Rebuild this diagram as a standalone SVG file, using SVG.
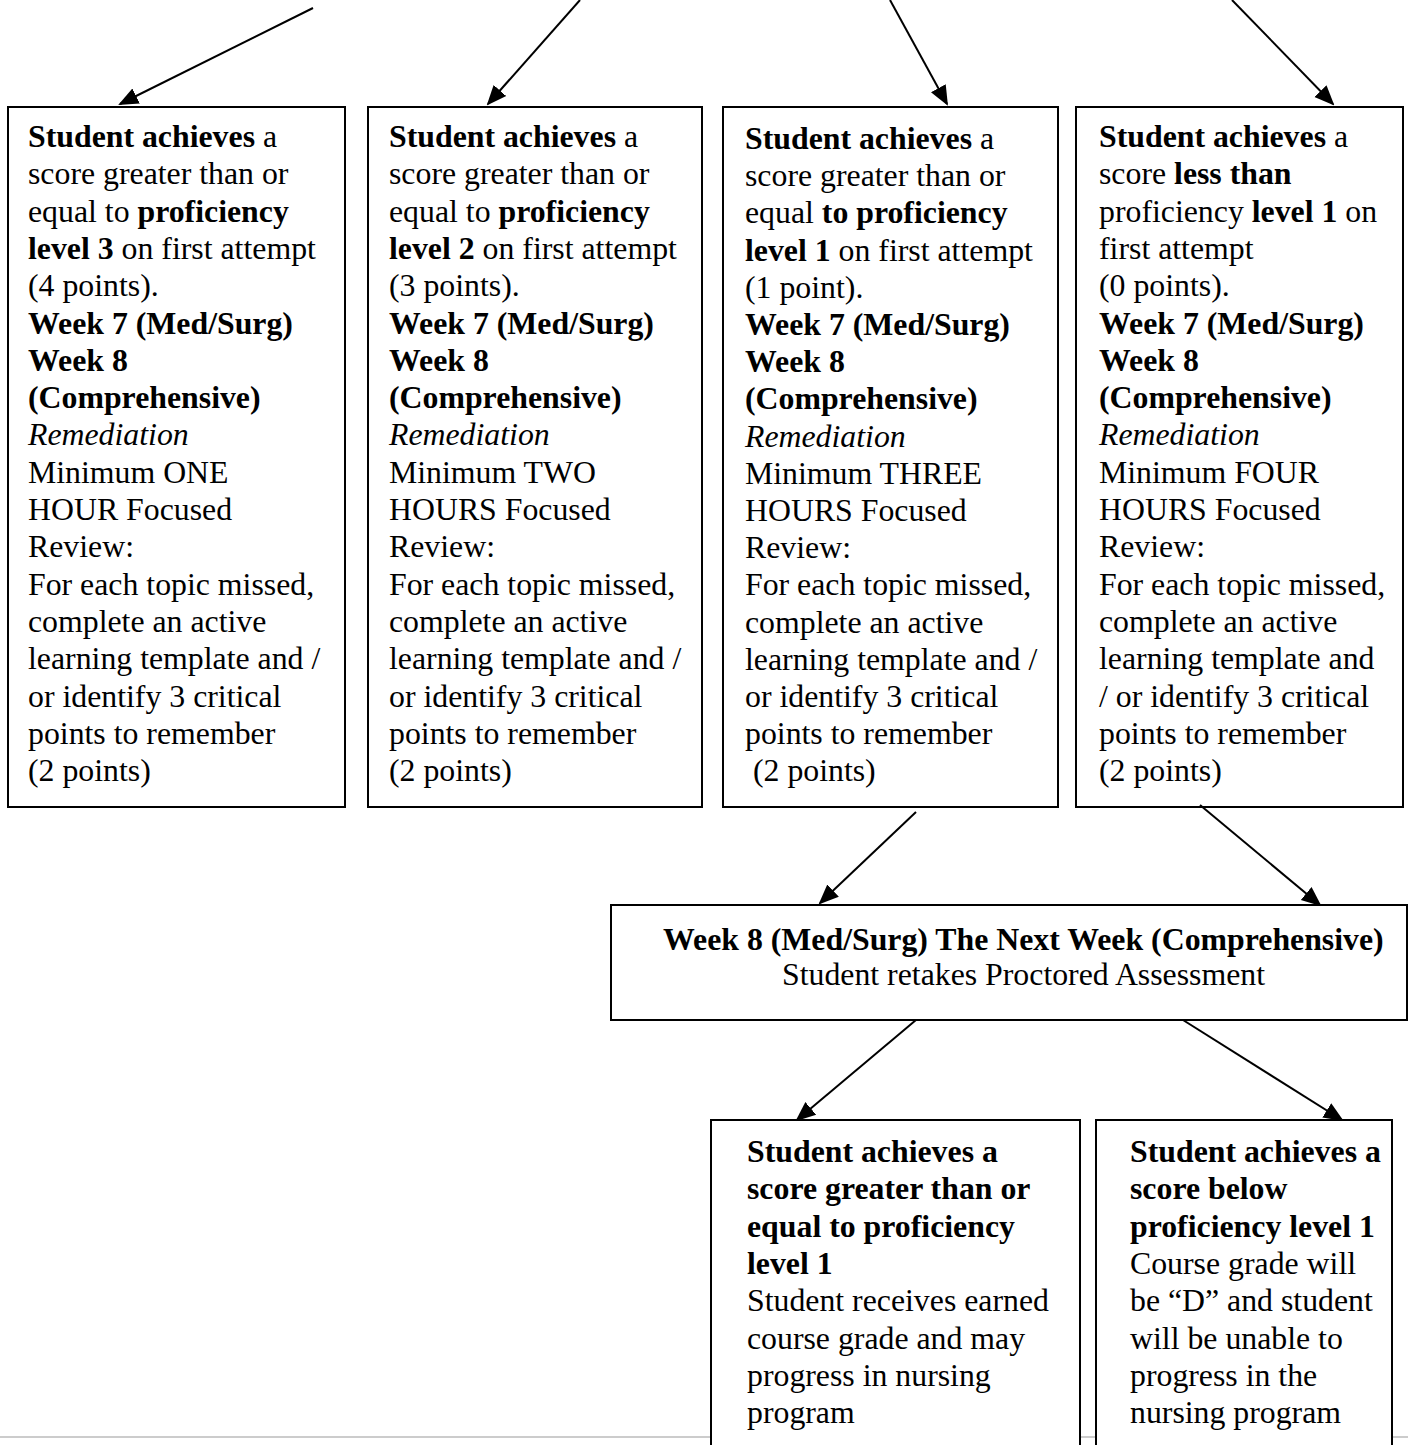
<svg xmlns="http://www.w3.org/2000/svg" width="1408" height="1445" viewBox="0 0 1408 1445">
<defs>
<style>
text{font-family:"Liberation Serif","Times New Roman",serif;font-size:31.8px;fill:#000}
.b{font-weight:bold}
.i{font-style:italic}
.box{fill:#fff;stroke:#000;stroke-width:2}
.conn line{stroke:#000;stroke-width:2}
</style>
<marker id="ah" viewBox="0 0 10 10" refX="9" refY="5" markerWidth="10" markerHeight="10" orient="auto" markerUnits="strokeWidth">
<path d="M0,0.8 L10,5 L0,9.2 z" fill="#000"/>
</marker>
</defs>
<rect width="1408" height="1445" fill="#fff"/>
<line x1="0" y1="1437" x2="1408" y2="1437" stroke="#ccc" stroke-width="2"/>

<g id="n1">
<rect class="box" x="8" y="107" width="337" height="700"/>
<text x="28" y="147"><tspan class="b">Student achieves</tspan> a</text>
<text x="28" y="184.3">score greater than or</text>
<text x="28" y="221.6">equal to <tspan class="b">proficiency</tspan></text>
<text x="28" y="258.9"><tspan class="b">level 3</tspan> on first attempt</text>
<text x="28" y="296.2">(4 points).</text>
<text x="28" y="333.5" class="b">Week 7 (Med/Surg)</text>
<text x="28" y="370.8" class="b">Week 8</text>
<text x="28" y="408.1" class="b">(Comprehensive)</text>
<text x="28" y="445.4" class="i">Remediation</text>
<text x="28" y="482.7">Minimum ONE</text>
<text x="28" y="520">HOUR Focused</text>
<text x="28" y="557.3">Review:</text>
<text x="28" y="594.6">For each topic missed,</text>
<text x="28" y="631.9">complete an active</text>
<text x="28" y="669.2">learning template and /</text>
<text x="28" y="706.5">or identify 3 critical</text>
<text x="28" y="743.8">points to remember</text>
<text x="28" y="781.1">(2 points)</text>
</g>

<g id="n2">
<rect class="box" x="368" y="107" width="334" height="700"/>
<text x="389" y="147"><tspan class="b">Student achieves</tspan> a</text>
<text x="389" y="184.3">score greater than or</text>
<text x="389" y="221.6">equal to <tspan class="b">proficiency</tspan></text>
<text x="389" y="258.9"><tspan class="b">level 2</tspan> on first attempt</text>
<text x="389" y="296.2">(3 points).</text>
<text x="389" y="333.5" class="b">Week 7 (Med/Surg)</text>
<text x="389" y="370.8" class="b">Week 8</text>
<text x="389" y="408.1" class="b">(Comprehensive)</text>
<text x="389" y="445.4" class="i">Remediation</text>
<text x="389" y="482.7">Minimum TWO</text>
<text x="389" y="520">HOURS Focused</text>
<text x="389" y="557.3">Review:</text>
<text x="389" y="594.6">For each topic missed,</text>
<text x="389" y="631.9">complete an active</text>
<text x="389" y="669.2">learning template and /</text>
<text x="389" y="706.5">or identify 3 critical</text>
<text x="389" y="743.8">points to remember</text>
<text x="389" y="781.1">(2 points)</text>
</g>

<g id="n3">
<rect class="box" x="723" y="107" width="335" height="700"/>
<text x="745" y="149"><tspan class="b">Student achieves</tspan> a</text>
<text x="745" y="186.2">score greater than or</text>
<text x="745" y="223.4">equal <tspan class="b">to proficiency</tspan></text>
<text x="745" y="260.6"><tspan class="b">level 1</tspan> on first attempt</text>
<text x="745" y="297.8">(1 point).</text>
<text x="745" y="335" class="b">Week 7 (Med/Surg)</text>
<text x="745" y="372.2" class="b">Week 8</text>
<text x="745" y="409.4" class="b">(Comprehensive)</text>
<text x="745" y="446.6" class="i">Remediation</text>
<text x="745" y="483.8">Minimum THREE</text>
<text x="745" y="521">HOURS Focused</text>
<text x="745" y="558.2">Review:</text>
<text x="745" y="595.4">For each topic missed,</text>
<text x="745" y="632.6">complete an active</text>
<text x="745" y="669.8">learning template and /</text>
<text x="745" y="707">or identify 3 critical</text>
<text x="745" y="744.2">points to remember</text>
<text x="745" y="781.4" xml:space="preserve"> (2 points)</text>
</g>

<g id="n4">
<rect class="box" x="1076" y="107" width="327" height="700"/>
<text x="1099" y="147"><tspan class="b">Student achieves</tspan> a</text>
<text x="1099" y="184.3">score <tspan class="b">less than</tspan></text>
<text x="1099" y="221.6">proficiency <tspan class="b">level 1</tspan> on</text>
<text x="1099" y="258.9">first attempt</text>
<text x="1099" y="296.2">(0 points).</text>
<text x="1099" y="333.5" class="b">Week 7 (Med/Surg)</text>
<text x="1099" y="370.8" class="b">Week 8</text>
<text x="1099" y="408.1" class="b">(Comprehensive)</text>
<text x="1099" y="445.4" class="i">Remediation</text>
<text x="1099" y="482.7">Minimum FOUR</text>
<text x="1099" y="520">HOURS Focused</text>
<text x="1099" y="557.3">Review:</text>
<text x="1099" y="594.6">For each topic missed,</text>
<text x="1099" y="631.9">complete an active</text>
<text x="1099" y="669.2">learning template and</text>
<text x="1099" y="706.5">/ or identify 3 critical</text>
<text x="1099" y="743.8">points to remember</text>
<text x="1099" y="781.1">(2 points)</text>
</g>

<g id="n5">
<rect class="box" x="611" y="905" width="796" height="115"/>
<text x="663" y="950" class="b">Week 8 (Med/Surg) The Next Week (Comprehensive)</text>
<text x="782" y="985">Student retakes Proctored Assessment</text>
</g>

<g id="n6">
<path class="box" d="M711,1450 V1120 H1080 V1450"/>
<text x="747" y="1162" class="b">Student achieves a</text>
<text x="747" y="1199.3" class="b">score greater than or</text>
<text x="747" y="1236.6" class="b">equal to proficiency</text>
<text x="747" y="1273.9" class="b">level 1</text>
<text x="747" y="1311.2">Student receives earned</text>
<text x="747" y="1348.5">course grade and may</text>
<text x="747" y="1385.8">progress in nursing</text>
<text x="747" y="1423.1">program</text>
</g>

<g id="n7">
<path class="box" d="M1096,1450 V1120 H1392 V1450"/>
<text x="1130" y="1162" class="b">Student achieves a</text>
<text x="1130" y="1199.3" class="b">score below</text>
<text x="1130" y="1236.6" class="b">proficiency level 1</text>
<text x="1130" y="1273.9">Course grade will</text>
<text x="1130" y="1311.2">be “D” and student</text>
<text x="1130" y="1348.5">will be unable to</text>
<text x="1130" y="1385.8">progress in the</text>
<text x="1130" y="1423.1">nursing program</text>
</g>

<g class="conn" id="connectors">
<line x1="313" y1="8" x2="120" y2="104" marker-end="url(#ah)"/>
<line x1="580" y1="0" x2="488" y2="104" marker-end="url(#ah)"/>
<line x1="890" y1="0" x2="947" y2="104" marker-end="url(#ah)"/>
<line x1="1232" y1="0" x2="1333" y2="104" marker-end="url(#ah)"/>
<line x1="916" y1="812" x2="820" y2="903" marker-end="url(#ah)"/>
<line x1="1200" y1="805" x2="1320" y2="905" marker-end="url(#ah)"/>
<line x1="916" y1="1020" x2="797" y2="1120" marker-end="url(#ah)"/>
<line x1="1183" y1="1020" x2="1342" y2="1120" marker-end="url(#ah)"/>
</g>
</svg>
